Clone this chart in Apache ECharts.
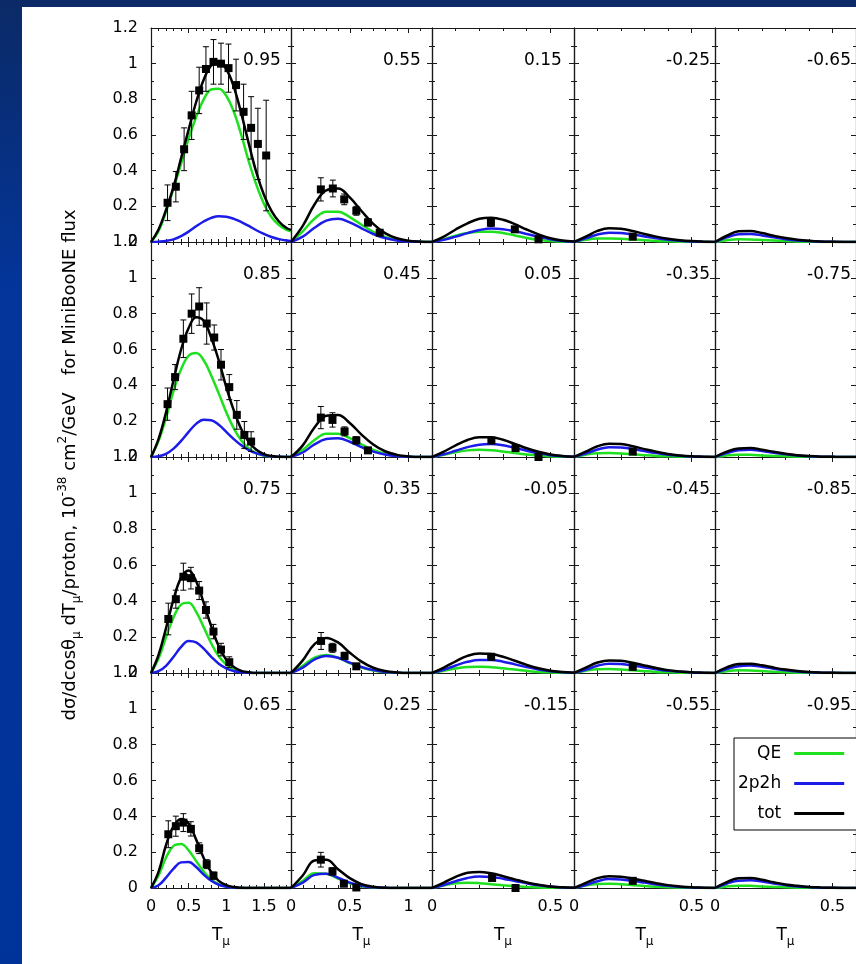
<!DOCTYPE html>
<html><head><meta charset="utf-8">
<script src="https://cdn.jsdelivr.net/npm/echarts@6/dist/echarts.min.js"></script>
<style>
html,body{margin:0;padding:0;}
#bg{position:absolute;left:0;top:0;width:856px;height:964px;background:linear-gradient(to bottom,#0b2a66 0%,#03359a 30%,#003399 100%);}
#white{position:absolute;left:22px;top:7px;width:834px;height:957px;background:#fff;}
#c{position:absolute;left:0;top:0;width:856px;height:964px;}
</style>
</head><body><div id="bg"></div><div id="white"></div><div id="c"></div>
<script>
// ---------------- data ----------------
const T_col1 = [0,0.1,0.2,0.3,0.4,0.5,0.6,0.7,0.8,0.9,1.0,1.1,1.2,1.3,1.4,1.5,1.6,1.7,1.8,1.86];
const T_col2 = [0,0.1,0.2,0.3,0.4,0.5,0.6,0.7,0.8,0.9,1.0,1.1,1.2];
const T_col345 = [0,0.05,0.1,0.15,0.2,0.25,0.3,0.35,0.4,0.45,0.5,0.55,0.6];
const xMax = [1.86, 1.2, 0.6, 0.6, 0.6];
const xLabelTicks = [0, 0.5, 1, 1.5];
const seriesNames = ['QE', '2p2h', 'tot'];

// cos 0.95
const qe_p095  = [0,0.06,0.17,0.30,0.44,0.58,0.70,0.80,0.855,0.86,0.82,0.73,0.60,0.45,0.32,0.215,0.14,0.095,0.068,0.06];
const pp_p095  = [0,0.002,0.006,0.015,0.033,0.058,0.088,0.115,0.135,0.145,0.142,0.13,0.112,0.09,0.066,0.045,0.028,0.016,0.008,0.006];
const tot_p095 = [0,0.07,0.18,0.31,0.47,0.63,0.785,0.91,0.99,1.01,0.97,0.87,0.72,0.55,0.39,0.265,0.175,0.115,0.078,0.068];
const dT_p095 = [0.22,0.33,0.44,0.54,0.64,0.73,0.83,0.93,1.03,1.13,1.23,1.33,1.42,1.53];
const dV_p095 = [0.22,0.31,0.52,0.71,0.85,0.97,1.01,1.00,0.975,0.88,0.73,0.64,0.55,0.485];
const dE_p095 = [0.10,0.085,0.12,0.135,0.13,0.125,0.125,0.115,0.135,0.145,0.155,0.175,0.20,0.31];
// cos 0.85
const qe_p085  = [0,0.09,0.22,0.37,0.49,0.565,0.58,0.54,0.455,0.355,0.25,0.16,0.092,0.047,0.021,0.008,0.002,0,0,0];
const pp_p085  = [0,0.004,0.018,0.047,0.09,0.14,0.185,0.208,0.205,0.18,0.14,0.1,0.065,0.038,0.02,0.009,0.003,0.001,0,0];
const tot_p085 = [0,0.1,0.25,0.43,0.6,0.72,0.78,0.76,0.665,0.54,0.39,0.26,0.155,0.083,0.04,0.016,0.005,0.001,0,0];
const dT_p085 = [0.22,0.32,0.43,0.54,0.64,0.74,0.84,0.93,1.04,1.14,1.24,1.33];
const dV_p085 = [0.295,0.446,0.66,0.80,0.84,0.745,0.667,0.515,0.39,0.235,0.123,0.086];
const dE_p085 = [0.09,0.07,0.105,0.11,0.105,0.115,0.07,0.085,0.07,0.08,0.075,0.055];
// cos 0.75
const qe_p075  = [0,0.08,0.2,0.31,0.38,0.39,0.34,0.255,0.165,0.093,0.047,0.021,0.008,0.002,0,0,0,0,0,0];
const pp_p075  = [0,0.01,0.04,0.09,0.145,0.178,0.17,0.135,0.09,0.052,0.026,0.011,0.004,0.001,0,0,0,0,0,0];
const tot_p075 = [0,0.1,0.25,0.41,0.53,0.57,0.51,0.39,0.26,0.148,0.074,0.033,0.012,0.004,0,0,0,0,0,0];
const dT_p075 = [0.23,0.33,0.43,0.53,0.64,0.73,0.83,0.93,1.04];
const dV_p075 = [0.30,0.41,0.535,0.527,0.458,0.35,0.23,0.13,0.06];
const dE_p075 = [0.088,0.05,0.075,0.06,0.05,0.045,0.04,0.035,0.03];
// cos 0.65
const qe_p065  = [0,0.07,0.17,0.235,0.245,0.21,0.15,0.092,0.047,0.021,0.008,0.002,0,0,0,0,0,0,0,0];
const pp_p065  = [0,0.015,0.058,0.108,0.143,0.145,0.117,0.075,0.04,0.018,0.007,0.002,0,0,0,0,0,0,0,0];
const tot_p065 = [0,0.09,0.24,0.345,0.385,0.36,0.27,0.168,0.088,0.04,0.016,0.005,0.001,0,0,0,0,0,0,0];
const dT_p065 = [0.23,0.33,0.43,0.53,0.64,0.74,0.83];
const dV_p065 = [0.30,0.345,0.365,0.33,0.222,0.133,0.069];
const dE_p065 = [0.075,0.056,0.05,0.04,0.03,0.025,0.02];
// cos 0.55
const qe_p055  = [0,0.06,0.13,0.17,0.17,0.14,0.097,0.057,0.028,0.012,0.004,0.001,0];
const pp_p055  = [0,0.03,0.08,0.12,0.13,0.11,0.077,0.045,0.022,0.009,0.003,0.001,0];
const tot_p055 = [0,0.09,0.21,0.29,0.30,0.25,0.174,0.102,0.05,0.021,0.007,0.002,0];
const dT_p055 = [0.254,0.356,0.453,0.556,0.655,0.755];
const dV_p055 = [0.295,0.30,0.239,0.175,0.11,0.052];
const dE_p055 = [0.065,0.047,0.03,0.025,0.02,0.015];
// cos 0.45
const qe_p045  = [0,0.04,0.095,0.13,0.13,0.105,0.07,0.04,0.018,0.007,0.002,0,0];
const pp_p045  = [0,0.025,0.07,0.1,0.105,0.085,0.055,0.03,0.014,0.005,0.001,0,0];
const tot_p045 = [0,0.065,0.165,0.23,0.235,0.19,0.125,0.07,0.032,0.012,0.003,0,0];
const dT_p045 = [0.254,0.353,0.456,0.556,0.655];
const dV_p045 = [0.22,0.207,0.143,0.093,0.037];
const dE_p045 = [0.062,0.04,0.025,0.02,0.015];
// cos 0.35
const qe_p035  = [0,0.04,0.085,0.1,0.085,0.055,0.03,0.014,0.005,0.001,0,0,0];
const pp_p035  = [0,0.03,0.075,0.095,0.085,0.058,0.033,0.016,0.006,0.002,0,0,0];
const tot_p035 = [0,0.07,0.16,0.195,0.17,0.113,0.063,0.029,0.011,0.003,0,0,0];
const dT_p035 = [0.256,0.353,0.456,0.556];
const dV_p035 = [0.178,0.14,0.095,0.037];
const dE_p035 = [0.047,0.025,0.02,0.015];
// cos 0.25
const qe_p025  = [0,0.04,0.083,0.08,0.052,0.026,0.01,0.003,0,0,0,0,0];
const pp_p025  = [0,0.03,0.073,0.08,0.057,0.03,0.012,0.004,0.001,0,0,0,0];
const tot_p025 = [0,0.07,0.153,0.157,0.105,0.055,0.022,0.007,0.001,0,0,0,0];
const dT_p025 = [0.254,0.353,0.45,0.556];
const dV_p025 = [0.158,0.093,0.024,0.003];
const dE_p025 = [0.041,0.02,0.015,0.01];
// cos 0.15
const qe_p015  = [0,0.015,0.035,0.05,0.058,0.058,0.05,0.037,0.023,0.012,0.005,0.002,0];
const pp_p015  = [0,0.012,0.03,0.05,0.067,0.076,0.072,0.06,0.045,0.029,0.015,0.006,0.002];
const tot_p015 = [0,0.03,0.07,0.105,0.13,0.136,0.125,0.1,0.07,0.043,0.021,0.008,0.003];
const dT_p015 = [0.249,0.35,0.45];
const dV_p015 = [0.108,0.071,0.015];
const dE_p015 = [0.02,0.015,0.01];
// cos 0.05
const qe_p005  = [0,0.012,0.027,0.037,0.04,0.038,0.031,0.022,0.014,0.008,0.004,0.001,0];
const pp_p005  = [0,0.015,0.035,0.055,0.069,0.072,0.065,0.051,0.035,0.021,0.01,0.004,0.001];
const tot_p005 = [0,0.03,0.065,0.095,0.11,0.11,0.096,0.073,0.049,0.029,0.014,0.006,0.002];
const dT_p005 = [0.251,0.353,0.45];
const dV_p005 = [0.092,0.05,0.0];
const dE_p005 = [0.015,0.012,0.01];
// cos -0.05
const qe_m005  = [0,0.012,0.025,0.033,0.035,0.032,0.026,0.019,0.012,0.006,0.003,0.001,0];
const pp_m005  = [0,0.018,0.042,0.062,0.072,0.072,0.063,0.048,0.033,0.02,0.01,0.004,0.001];
const tot_m005 = [0,0.03,0.065,0.095,0.108,0.105,0.09,0.068,0.045,0.026,0.013,0.005,0.002];
const dT_m005 = [0.25];
const dV_m005 = [0.09];
const dE_m005 = [0.015];
// cos -0.15
const qe_m015  = [0,0.014,0.027,0.03,0.027,0.021,0.015,0.01,0.006,0.003,0.001,0,0];
const pp_m015  = [0,0.017,0.038,0.056,0.064,0.062,0.052,0.039,0.026,0.015,0.008,0.003,0.001];
const tot_m015 = [0,0.03,0.062,0.085,0.09,0.082,0.066,0.048,0.031,0.018,0.009,0.004,0.001];
const dT_m015 = [0.254,0.353];
const dV_m015 = [0.056,0.0];
const dE_m015 = [0.01,0.008];
// cos -0.25
const qe_m025  = [0,0.012,0.019,0.02,0.018,0.014,0.01,0.006,0.004,0.002,0.001,0,0];
const pp_m025  = [0,0.02,0.042,0.052,0.05,0.042,0.031,0.021,0.013,0.007,0.003,0.001,0];
const tot_m025 = [0,0.03,0.062,0.077,0.074,0.062,0.045,0.03,0.018,0.01,0.005,0.002,0];
const dT_m025 = [0.25];
const dV_m025 = [0.03];
const dE_m025 = [0.005];
// cos -0.35
const qe_m035  = [0,0.013,0.021,0.022,0.02,0.015,0.01,0.006,0.004,0.002,0.001,0,0];
const pp_m035  = [0,0.019,0.042,0.055,0.053,0.045,0.033,0.022,0.013,0.007,0.003,0.001,0];
const tot_m035 = [0,0.03,0.06,0.074,0.072,0.06,0.044,0.029,0.017,0.009,0.004,0.002,0];
const dT_m035 = [0.25];
const dV_m035 = [0.03];
const dE_m035 = [0.005];
// cos -0.45
const qe_m045  = [0,0.013,0.021,0.022,0.02,0.015,0.01,0.006,0.004,0.002,0.001,0,0];
const pp_m045  = [0,0.018,0.04,0.052,0.05,0.042,0.031,0.021,0.012,0.007,0.003,0.001,0];
const tot_m045 = [0,0.03,0.058,0.07,0.068,0.057,0.042,0.028,0.016,0.009,0.004,0.002,0];
const dT_m045 = [0.25];
const dV_m045 = [0.034];
const dE_m045 = [0.005];
// cos -0.55
const qe_m055  = [0,0.014,0.022,0.024,0.021,0.016,0.011,0.007,0.004,0.002,0.001,0,0];
const pp_m055  = [0,0.017,0.038,0.05,0.048,0.04,0.03,0.02,0.012,0.006,0.003,0.001,0];
const tot_m055 = [0,0.028,0.055,0.065,0.063,0.053,0.04,0.027,0.016,0.009,0.004,0.002,0];
const dT_m055 = [0.25];
const dV_m055 = [0.04];
const dE_m055 = [0.005];
// cos -0.65
const qe_m065  = [0,0.01,0.015,0.014,0.011,0.008,0.005,0.003,0.001,0,0,0,0];
const pp_m065  = [0,0.026,0.043,0.045,0.037,0.026,0.016,0.009,0.005,0.002,0.001,0,0];
const tot_m065 = [0,0.035,0.06,0.062,0.05,0.035,0.022,0.013,0.007,0.003,0.001,0,0];
// cos -0.75
const qe_m075  = [0,0.009,0.013,0.012,0.009,0.006,0.004,0.002,0.001,0,0,0,0];
const pp_m075  = [0,0.022,0.038,0.041,0.034,0.024,0.015,0.008,0.004,0.002,0.001,0,0];
const tot_m075 = [0,0.03,0.048,0.05,0.041,0.029,0.018,0.01,0.005,0.002,0.001,0,0];
// cos -0.85
const qe_m085  = [0,0.01,0.015,0.014,0.011,0.007,0.004,0.002,0.001,0,0,0,0];
const pp_m085  = [0,0.022,0.038,0.041,0.034,0.024,0.015,0.008,0.004,0.002,0.001,0,0];
const tot_m085 = [0,0.031,0.05,0.052,0.043,0.03,0.019,0.011,0.006,0.003,0.001,0,0];
// cos -0.95
const qe_m095  = [0,0.009,0.013,0.012,0.009,0.006,0.004,0.002,0.001,0,0,0,0];
const pp_m095  = [0,0.024,0.041,0.043,0.036,0.025,0.016,0.009,0.005,0.002,0.001,0,0];
const tot_m095 = [0,0.033,0.054,0.056,0.046,0.032,0.02,0.012,0.006,0.003,0.001,0,0];

// panel table, row-major (4 rows x 5 columns)
const panels = [
  ['0.95', qe_p095, pp_p095, tot_p095, dT_p095, dV_p095, dE_p095],
  ['0.55', qe_p055, pp_p055, tot_p055, dT_p055, dV_p055, dE_p055],
  ['0.15', qe_p015, pp_p015, tot_p015, dT_p015, dV_p015, dE_p015],
  ['-0.25', qe_m025, pp_m025, tot_m025, dT_m025, dV_m025, dE_m025],
  ['-0.65', qe_m065, pp_m065, tot_m065, [], [], []],
  ['0.85', qe_p085, pp_p085, tot_p085, dT_p085, dV_p085, dE_p085],
  ['0.45', qe_p045, pp_p045, tot_p045, dT_p045, dV_p045, dE_p045],
  ['0.05', qe_p005, pp_p005, tot_p005, dT_p005, dV_p005, dE_p005],
  ['-0.35', qe_m035, pp_m035, tot_m035, dT_m035, dV_m035, dE_m035],
  ['-0.75', qe_m075, pp_m075, tot_m075, [], [], []],
  ['0.75', qe_p075, pp_p075, tot_p075, dT_p075, dV_p075, dE_p075],
  ['0.35', qe_p035, pp_p035, tot_p035, dT_p035, dV_p035, dE_p035],
  ['-0.05', qe_m005, pp_m005, tot_m005, dT_m005, dV_m005, dE_m005],
  ['-0.45', qe_m045, pp_m045, tot_m045, dT_m045, dV_m045, dE_m045],
  ['-0.85', qe_m085, pp_m085, tot_m085, [], [], []],
  ['0.65', qe_p065, pp_p065, tot_p065, dT_p065, dV_p065, dE_p065],
  ['0.25', qe_p025, pp_p025, tot_p025, dT_p025, dV_p025, dE_p025],
  ['-0.15', qe_m015, pp_m015, tot_m015, dT_m015, dV_m015, dE_m015],
  ['-0.55', qe_m055, pp_m055, tot_m055, dT_m055, dV_m055, dE_m055],
  ['-0.95', qe_m095, pp_m095, tot_m095, [], [], []]
];
const colT = [T_col1, T_col2, T_col345, T_col345, T_col345];

// ---------------- layout ----------------
const colLeft = [151, 291, 432, 574, 715];
const colWidth = [140, 141, 142, 141, 141];
const rowTop = [28, 242, 457, 673];
const rowHeight = [214, 215, 216, 215];
const FONT = 'DejaVu Sans';
const AX = '#1a1a1a';
const COLORS = ['#1ee01e', '#1c1ce8', '#000000'];

const grid = [], xAxis = [], yAxis = [], series = [], graphic = [];

panels.forEach((p, k) => {
  const r = Math.floor(k / 5), c = k % 5;
  const rect = {left: colLeft[c], top: rowTop[r], width: colWidth[c], height: rowHeight[r]};
  grid[k] = Object.assign({}, rect);
  grid[20 + k] = Object.assign({}, rect);
  const line = {show: true, onZero: false, lineStyle: {color: AX, width: 1.2}};
  const majorTick = {show: true, inside: true, length: 5, lineStyle: {color: AX, width: 1}};
  const minorTickX = {show: true, inside: true, length: 3, lineStyle: {color: AX, width: 1}};
  xAxis[2 * k] = {
    gridIndex: k, type: 'value', position: 'bottom', min: 0, max: xMax[c], interval: 0.5,
    axisLine: line, axisTick: majorTick, splitLine: {show: false},
    axisLabel: {show: r === 3, showMaxLabel: false, margin: 11, fontSize: 16, fontFamily: FONT, color: '#000',
      formatter: v => (xLabelTicks.indexOf(v) >= 0 ? String(v) : '')},
    name: r === 3 ? '{t|T}{s|μ}' : '', nameLocation: 'middle', nameGap: 36,
    nameTextStyle: {fontFamily: FONT, fontSize: 17, color: '#000', lineHeight: 24,
      rich: {t: {fontFamily: FONT, fontSize: 17, lineHeight: 24, color: '#000'},
             s: {fontFamily: FONT, fontSize: 12, lineHeight: 12, verticalAlign: 'bottom', color: '#000'}}}
  };
  xAxis[2 * k + 1] = {
    gridIndex: k, type: 'value', position: 'top', min: 0, max: xMax[c], interval: 0.5,
    axisLine: line, axisTick: majorTick, splitLine: {show: false}, axisLabel: {show: false}
  };
  xAxis[40 + 2 * k] = {
    gridIndex: 20 + k, type: 'value', position: 'bottom', min: 0, max: xMax[c], interval: 0.1,
    axisLine: {show: false, onZero: false}, axisTick: minorTickX, splitLine: {show: false}, axisLabel: {show: false}
  };
  xAxis[41 + 2 * k] = {
    gridIndex: 20 + k, type: 'value', position: 'top', min: 0, max: xMax[c], interval: 0.1,
    axisLine: {show: false, onZero: false}, axisTick: minorTickX, splitLine: {show: false}, axisLabel: {show: false}
  };
  const yCommon = {
    type: 'value', min: 0, max: 1.2, interval: 0.2,
    axisLine: line, axisTick: majorTick,
    minorTick: {show: true, splitNumber: 2, length: 3, lineStyle: {color: AX, width: 1}},
    splitLine: {show: false}, minorSplitLine: {show: false}
  };
  yAxis[2 * k] = Object.assign({}, yCommon, {gridIndex: k, position: 'left',
    axisLabel: {show: c === 0, margin: 13, fontSize: 16, fontFamily: FONT, color: '#000'}});
  yAxis[2 * k + 1] = Object.assign({}, yCommon, {gridIndex: k, position: 'right', axisLabel: {show: false}});
  yAxis[40 + k] = {gridIndex: 20 + k, type: 'value', min: 0, max: 1.2, show: false};

  const T = colT[c];
  [p[1], p[2], p[3]].forEach((vals, j) => {
    series.push({
      type: 'line', name: seriesNames[j], xAxisIndex: 2 * k, yAxisIndex: 2 * k,
      data: T.map((t, i) => [t, vals[i]]), smooth: 0.4, symbol: 'none', showSymbol: false, clip: true,
      lineStyle: {color: COLORS[j], width: 2.5}, itemStyle: {color: COLORS[j]}, silent: true, z: 3 + j * 0.1
    });
  });
  const dT = p[4], dV = p[5], dE = p[6];
  if (dT.length) {
    series.push({
      type: 'custom', xAxisIndex: 2 * k, yAxisIndex: 2 * k, silent: true, z: 4,
      data: dT.map((t, i) => [t, dV[i], dE[i]]),
      renderItem: (params, api) => {
        const x = api.value(0), y = api.value(1), e = api.value(2);
        const top = api.coord([x, y + e]);
        const bot = api.coord([x, Math.max(0, y - e)]);
        const cw = 3, st = {stroke: '#000', lineWidth: 1};
        return {type: 'group', children: [
          {type: 'line', shape: {x1: top[0], y1: top[1], x2: bot[0], y2: bot[1]}, style: st},
          {type: 'line', shape: {x1: top[0] - cw, y1: top[1], x2: top[0] + cw, y2: top[1]}, style: st},
          {type: 'line', shape: {x1: bot[0] - cw, y1: bot[1], x2: bot[0] + cw, y2: bot[1]}, style: st}
        ]};
      }
    });
    series.push({
      type: 'scatter', xAxisIndex: 2 * k, yAxisIndex: 2 * k, symbol: 'rect', symbolSize: 8,
      itemStyle: {color: '#000', opacity: 1}, silent: true, z: 5,
      data: dT.map((t, i) => [t, dV[i]])
    });
  }
  graphic.push({
    type: 'text', x: colLeft[c] + 92, y: rowTop[r] + 33, z: 10,
    style: {text: p[0], fontFamily: FONT, fontSize: 17, fill: '#000', align: 'left', verticalAlign: 'middle'}
  });
});

graphic.push({
  type: 'text', x: 70, y: 465, rotation: Math.PI / 2, z: 10,
  style: {
    text: 'dσ/dcosθ{s|μ} dT{s|μ}/proton, 10{p|-38} cm{p|2}/GeV   for MiniBooNE flux',
    fontFamily: FONT, fontSize: 18, lineHeight: 26, fill: '#000', align: 'center', verticalAlign: 'middle',
    rich: {
      s: {fontFamily: FONT, fontSize: 12, lineHeight: 12, verticalAlign: 'bottom', fill: '#000'},
      p: {fontFamily: FONT, fontSize: 12, lineHeight: 12, verticalAlign: 'top', fill: '#000'}
    }
  }
});

const chart = echarts.init(document.getElementById('c'), null, {renderer: 'canvas'});
chart.setOption({
  animation: false,
  backgroundColor: 'transparent',
  grid, xAxis, yAxis, series, graphic,
  legend: {
    data: seriesNames, orient: 'vertical', align: 'right', left: 734, top: 738,
    padding: [7, 20, 8, 4], itemGap: 13, itemWidth: 50, itemHeight: 3, icon: 'rect',
    borderColor: '#000', borderWidth: 1, borderRadius: 0, backgroundColor: '#fff', selectedMode: false,
    textStyle: {fontFamily: FONT, fontSize: 17, color: '#000', padding: [0, 8, 0, 0]}
  }
});
</script>
</body></html>
